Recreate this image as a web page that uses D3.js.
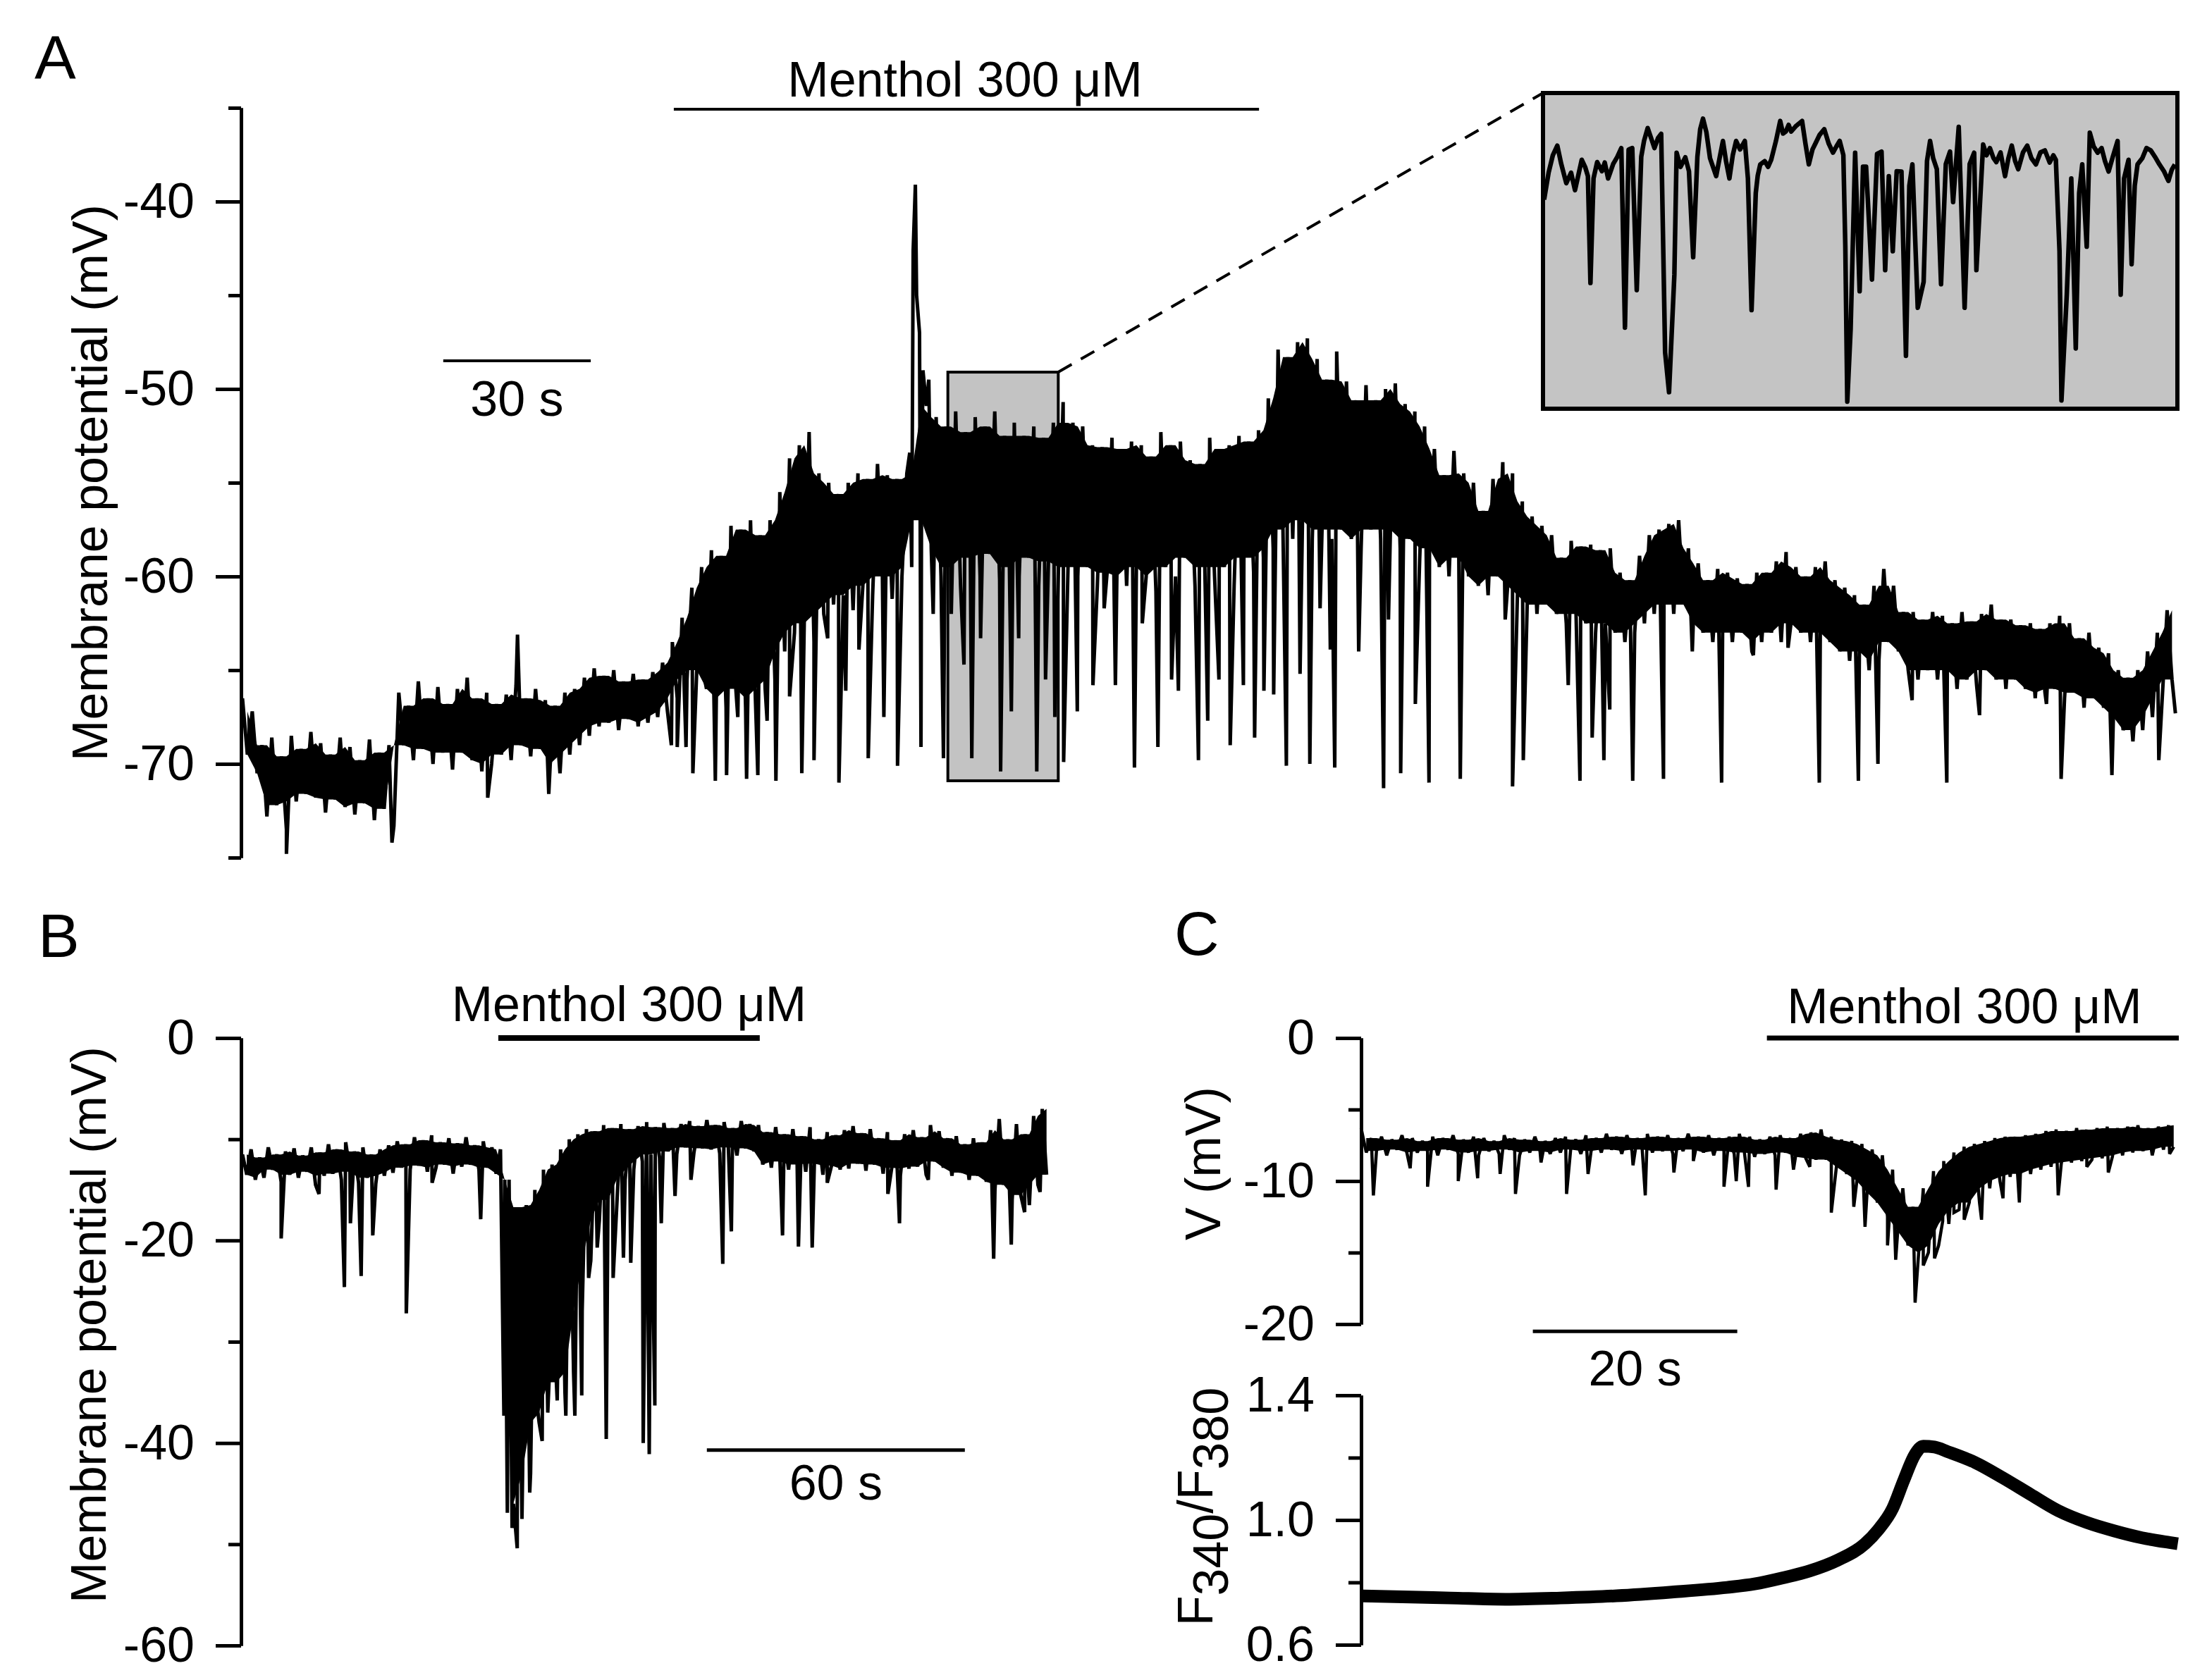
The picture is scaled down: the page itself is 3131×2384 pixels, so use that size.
<!DOCTYPE html>
<html>
<head>
<meta charset="utf-8">
<script src="https://cdn.jsdelivr.net/npm/d3@7"></script>
<style>
  html, body { margin: 0; padding: 0; background: #fff; }
  svg { display: block; }
  text { font-family: "Liberation Sans", Arial, Helvetica, sans-serif; fill: #000; }
</style>
</head>
<body>
<svg id="fig" width="3131" height="2384"></svg>
<script>
// ---------- Panel A : membrane potential (mV), band read every 2 s ----------
const stepA = 2;
const bandTopA = [
  -66.5,-67.2,-69.0,-68.6,-69.6,-68.5,-69.2,-68.3,-68.9,-69.5,
  -68.6,-69.1,-69.8,-68.7,-69.4,-69.0,-66.2,-66.9,-65.6,-66.5,
  -65.9,-66.8,-66.0,-65.4,-66.5,-66.2,-66.8,-66.3,-65.8,-66.5,
  -66.0,-66.6,-66.9,-66.2,-66.0,-65.4,-64.9,-65.3,-65.0,-65.6,
  -65.2,-65.5,-65.1,-64.6,-63.5,-62.2,-60.6,-59.5,-58.6,-58.9,
  -57.3,-57.5,-57.0,-57.8,-57.0,-55.5,-53.7,-53.0,-52.3,-54.5,
  -55.0,-55.6,-55.0,-54.5,-54.8,-54.0,-54.6,-54.8,-54.5,-45.0,
  -50.9,-51.5,-52.0,-51.2,-52.3,-51.5,-52.0,-51.2,-52.5,-51.8,
  -52.5,-52.0,-52.6,-51.8,-50.7,-51.8,-52.0,-53.0,-53.1,-52.6,
  -53.2,-52.8,-53.0,-53.6,-52.3,-53.0,-52.8,-53.8,-54.0,-52.6,
  -53.2,-53.0,-52.5,-52.8,-52.2,-50.5,-47.9,-48.3,-47.5,-47.3,
  -48.4,-49.5,-48.0,-49.6,-50.6,-49.8,-50.6,-50.0,-49.7,-50.8,
  -51.2,-52.0,-53.2,-54.6,-53.3,-54.5,-55.0,-56.5,-54.8,-53.9,
  -54.5,-56.0,-56.8,-57.3,-57.8,-59.0,-58.1,-58.4,-58.3,-58.6,
  -58.5,-59.8,-60.2,-58.9,-57.8,-57.5,-57.2,-57.0,-58.5,-59.3,
  -60.2,-59.6,-59.8,-60.1,-60.4,-59.8,-59.8,-59.2,-58.7,-59.5,
  -60.0,-59.5,-59.2,-60.2,-60.6,-61.0,-61.5,-60.5,-59.6,-60.5,
  -61.9,-61.9,-62.3,-61.9,-62.1,-62.5,-61.9,-62.4,-62.0,-61.5,
  -62.3,-62.3,-62.6,-62.5,-62.8,-62.5,-62.1,-62.5,-63.3,-63.0,
  -63.8,-64.1,-65.0,-65.4,-65.0,-64.0,-63.0,-61.8
];
const bandBotA = [
  -69.5,-70.5,-72.8,-72.2,-73.5,-72.0,-71.6,-71.8,-72.6,-71.9,
  -72.3,-72.7,-72.1,-73.0,-72.4,-73.3,-69.0,-69.8,-69.2,-70.0,
  -69.4,-70.3,-69.4,-69.8,-70.4,-70.0,-69.5,-69.8,-69.0,-69.6,
  -69.2,-70.0,-70.5,-69.5,-69.0,-68.5,-68.0,-67.8,-68.2,-67.6,
  -68.0,-67.8,-67.5,-67.2,-66.5,-65.5,-65.0,-66.0,-66.5,-67.0,
  -66.0,-67.0,-66.5,-66.0,-65.5,-64.0,-63.0,-62.5,-63.5,-62.0,
  -61.5,-61.0,-61.8,-60.5,-61.0,-60.0,-61.2,-60.0,-59.5,-57.0,
  -58.5,-60.0,-59.5,-60.5,-59.0,-60.0,-58.8,-60.2,-59.5,-60.0,
  -59.0,-60.5,-59.2,-60.0,-59.5,-60.0,-59.5,-60.5,-59.8,-60.0,
  -60.5,-59.5,-60.0,-60.8,-59.5,-60.0,-59.0,-60.5,-59.5,-60.0,
  -59.5,-60.5,-59.0,-59.8,-59.0,-58.5,-57.5,-58.0,-57.0,-58.0,
  -57.5,-58.0,-57.5,-58.0,-58.5,-57.5,-58.0,-57.5,-58.5,-58.0,
  -59.0,-58.5,-59.5,-60.0,-59.0,-60.0,-60.5,-61.0,-60.0,-60.5,
  -61.0,-61.5,-62.0,-61.5,-62.0,-62.5,-62.0,-62.5,-63.0,-62.5,
  -63.0,-63.5,-63.0,-62.5,-62.0,-61.5,-62.0,-61.5,-62.5,-63.0,
  -63.5,-63.0,-63.5,-63.0,-64.0,-63.5,-63.0,-63.5,-62.5,-63.0,
  -63.5,-63.0,-63.5,-64.0,-64.5,-64.0,-65.0,-64.5,-63.5,-64.0,
  -65.0,-65.5,-65.0,-65.5,-65.0,-66.0,-65.5,-65.8,-65.0,-65.5,
  -66.0,-65.5,-66.0,-66.5,-66.2,-66.0,-66.5,-66.2,-67.0,-66.5,
  -67.0,-67.5,-68.2,-68.8,-68.2,-67.5,-66.5,-65.5
];
// [time s, mV] of the fast excursions
const spikesA = [
  [9.0,-74.8],[30.6,-74.2],[50.2,-71.8],[56.3,-63.1],[62.7,-71.6],[87.8,-69.0],
  [89.0,-69.1],[90.8,-69.1],[92.2,-70.5],[94.0,-64.7],[96.8,-70.9],[99.1,-70.6],
  [101.4,-67.5],[103.2,-70.8],[105.5,-70.6],[107.4,-67.7],[109.2,-70.9],[112.0,-66.4],
  [114.5,-70.5],[117.0,-69.8],[119.8,-63.3],[122.1,-71.0],[123.5,-66.1],[126.2,-63.9],
  [128.1,-69.7],[131.3,-67.5],[134.1,-70.1],
  [136.6,-53.4],[137.3,-42.6],[137.75,-39.1],[138.6,-47.0],[138.9,-69.1],[139.3,-49.0],[140.5,-49.5],
  [141.4,-62.0],[143.5,-69.7],[145.1,-62.0],[147.7,-64.7],[149.3,-69.7],[151.1,-63.3],
  [155.2,-70.4],[157.4,-67.2],[158.9,-63.3],[162.6,-70.4],[164.4,-65.5],[166.3,-67.5],
  [168.1,-69.9],[170.9,-67.2],[174.1,-65.8],[176.4,-61.7],[178.7,-65.8],[182.6,-70.2],
  [184.2,-62.5],[187.4,-69.1],[190.2,-65.5],[191.6,-66.1],[195.7,-69.8],[197.6,-67.7],
  [199.9,-65.5],[202.2,-69.0],[204.9,-65.8],[207.2,-68.6],[209.1,-66.1],[211.1,-66.3],
  [213.7,-70.1],[216.5,-65.2],[218.5,-70.0],[220.6,-61.7],[222.7,-63.9],[223.6,-70.2],
  [228.5,-64.0],[233.6,-71.3],[234.6,-62.3],[237.1,-70.5],[240.1,-66.8],[242.9,-71.0],
  [249.3,-70.8],[258.5,-62.3],[260.0,-71.2],[262.2,-69.8],[271.4,-65.8],[273.8,-70.9],
  [276.3,-68.6],[278.7,-69.8],[279.9,-67.1],[284.6,-70.9],[290.9,-70.8],[296.8,-64.0],
  [302.8,-71.0],[309.3,-64.2],[316.4,-63.8],[322.8,-71.0],[330.8,-70.9],[334.8,-70.0],
  [341.8,-66.6],[348.9,-71.0],[355.6,-67.4],[369.3,-66.8],[372.3,-70.8],[382.7,-70.6],
  [385.3,-67.9],[392.3,-69.8],[395.7,-67.3]
];
const mentholA = [88.3, 208.1];     // s
const boxA = { t: [144.4, 167.0], mv: [-70.9, -49.1] };

// inset: magnified stretch of the grey box, [time s, mV]
const insetA = [
  [144.44,-56.46],[144.6,-54.6],[144.75,-53.4],[144.91,-52.73],[145.05,-54.0],[145.23,-55.33],
  [145.40,-54.6],[145.54,-55.81],[145.78,-53.71],[145.90,-54.2],[146.00,-54.84],
  [146.09,-62.22],[146.20,-55.0],[146.33,-53.87],[146.50,-54.5],[146.60,-53.9],[146.72,-55.0],
  [146.90,-54.0],[147.05,-53.5],[147.19,-52.9],[147.32,-65.30],
  [147.45,-53.0],[147.58,-52.9],[147.74,-62.71],[147.90,-53.5],[148.00,-52.4],[148.13,-51.52],
  [148.25,-52.2],[148.37,-52.9],[148.50,-52.2],[148.61,-51.92],[148.75,-67.0],[148.89,-69.76],
  [149.08,-61.65],[149.16,-53.22],[149.30,-54.2],[149.47,-53.54],[149.60,-54.5],
  [149.75,-60.44],[149.90,-53.5],[150.00,-51.6],[150.10,-50.87],[150.22,-51.8],[150.35,-53.6],
  [150.57,-54.84],[150.70,-53.5],[150.81,-52.41],[150.92,-53.8],[151.04,-55.0],
  [151.16,-53.4],[151.28,-52.41],[151.42,-53.0],[151.59,-52.41],[151.70,-55.0],[151.83,-64.09],
  [151.98,-56.0],[152.05,-54.8],[152.14,-54.03],[152.30,-53.8],[152.42,-54.2],
  [152.53,-53.71],[152.70,-52.4],[152.85,-51.03],[152.95,-51.9],[153.05,-51.76],[153.15,-51.3],
  [153.24,-51.76],[153.40,-51.4],[153.63,-51.03],[153.75,-52.6],[153.87,-54.03],
  [154.00,-53.0],[154.11,-52.57],[154.25,-52.0],[154.42,-51.6],[154.58,-52.6],[154.73,-53.22],
  [154.85,-52.8],[154.97,-52.41],[155.10,-53.38],[155.17,-59.71],
  [155.24,-70.41],[155.36,-65.38],[155.52,-53.22],[155.68,-62.79],[155.80,-54.19],[155.91,-54.19],
  [156.12,-61.98],[156.30,-53.3],[156.46,-53.14],[156.59,-61.33],[156.72,-54.84],[156.86,-60.03],
  [157.00,-54.5],[157.17,-54.52],[157.33,-67.25],[157.45,-55.5],[157.56,-54.03],[157.75,-63.93],
  [157.96,-62.14],[158.08,-53.8],[158.19,-52.41],[158.30,-53.6],[158.43,-54.36],[158.58,-62.3],
  [158.75,-54.0],[158.90,-53.14],
  [159.01,-56.63],[159.21,-51.44],[159.42,-63.93],[159.60,-54.0],[159.76,-53.22],[159.84,-61.33],
  [160.08,-52.65],[160.20,-53.4],[160.32,-52.9],[160.45,-53.6],[160.55,-53.87],[160.70,-53.2],
  [160.86,-54.84],[160.98,-53.6],[161.10,-52.73],[161.22,-53.8],[161.33,-54.36],[161.50,-53.2],
  [161.65,-52.73],[161.80,-53.6],[161.96,-54.03],[162.12,-53.2],[162.28,-53.06],[162.45,-53.9],
  [162.58,-53.4],[162.67,-53.71],[162.80,-60.0],[162.87,-70.33],[163.06,-63.0],
  [163.22,-55.0],[163.38,-66.74],[163.50,-56.0],[163.61,-54.03],[163.77,-59.71],[163.88,-51.84],
  [164.02,-52.8],[164.16,-53.22],[164.30,-52.9],[164.42,-53.8],[164.55,-54.52],[164.70,-53.5],
  [164.87,-52.41],[164.98,-63.03],[165.10,-55.0],[165.26,-53.71],
  [165.37,-60.92],[165.48,-55.5],[165.58,-54.03],[165.75,-53.6],[165.90,-52.9],[166.05,-53.06],
  [166.20,-53.5],[166.36,-54.03],[166.52,-54.5],[166.68,-55.17],[166.80,-54.4],[166.91,-54.03]
];

// ---------- Panel B : membrane potential (mV), band read every 2 s ----------
const stepB = 2;
const bandTopB = [
  -11.5,-11.0,-11.8,-10.8,-11.5,-11.2,-10.9,-11.6,-10.8,-11.3,
  -10.5,-11.0,-10.3,-11.2,-10.8,-11.5,-11.0,-10.6,-10.2,-10.5,
  -9.8,-10.1,-9.6,-10.3,-9.9,-10.4,-9.8,-10.6,-10.2,-10.8,
  -11.0,-14.0,-16.7,-16.5,-15.0,-13.0,-12.5,-11.0,-10.0,-9.5,
  -9.0,-9.2,-8.6,-8.9,-8.5,-9.0,-8.7,-8.3,-8.8,-8.4,
  -8.9,-8.5,-8.2,-8.7,-8.1,-8.6,-8.3,-8.9,-8.2,-8.5,
  -8.6,-9.3,-8.8,-9.5,-9.0,-9.7,-8.8,-10.0,-9.3,-9.6,
  -9.1,-8.7,-9.4,-9.0,-9.9,-9.3,-10.1,-9.5,-9.1,-9.8,
  -8.6,-9.2,-9.9,-9.7,-10.5,-9.9,-10.3,-9.1,-8.0,-10.0,
  -8.5,-9.5,-7.7,-7.0
];
const bandBotB = [
  -13.5,-14.0,-13.8,-13.0,-14.2,-13.5,-13.8,-13.2,-14.5,-13.6,
  -13.4,-14.0,-13.2,-14.3,-13.8,-14.4,-13.6,-13.3,-12.8,-13.0,
  -12.6,-13.2,-12.8,-12.5,-13.4,-12.7,-12.5,-13.0,-12.8,-13.4,
  -14.0,-46.0,-47.5,-43.0,-38.0,-37.0,-34.0,-35.0,-33.0,-27.0,
  -22.0,-18.0,-16.0,-17.0,-14.0,-13.0,-12.2,-11.5,-11.8,-11.2,
  -11.5,-10.8,-11.3,-10.9,-11.0,-11.4,-10.8,-11.6,-10.9,-11.2,
  -12.5,-12.8,-12.2,-13.0,-12.5,-13.2,-12.4,-13.5,-12.6,-13.0,
  -12.9,-12.4,-13.1,-12.5,-13.4,-12.8,-13.6,-12.9,-12.7,-13.5,
  -12.2,-12.8,-13.6,-13.3,-14.0,-13.6,-14.2,-15.0,-14.5,-16.0,
  -15.5,-16.5,-14.5,-13.5
];
const spikesB = [
  [9.0,-19.8],[17.8,-15.4],[23.7,-24.6],[25.1,-18.3],[27.6,-23.5],[30.3,-19.5],[38.1,-27.2],
  [44.1,-14.3],[55.4,-17.9],
  [60.8,-37.3],[61.6,-46.9],[62.7,-48.4],[63.9,-50.4],[65.1,-44.4],[66.8,-44.9],[68.4,-35.8],
  [69.7,-39.8],[71.6,-30.8],[73.2,-35.8],[75.2,-37.3],[77.3,-37.3],[78.9,-35.3],[80.5,-23.7],
  [82.5,-20.7],[84.6,-39.6],[86.2,-23.7],[88.6,-21.7],[90.3,-22.2],[93.2,-40.0],[94.6,-41.1],
  [95.9,-36.3],[97.4,-18.3],[100.6,-15.6],[104.3,-14.0],[111.7,-22.3],[113.7,-19.1],
  [125.6,-19.5],[129.3,-20.6],[132.5,-20.7],[136.0,-14.3],[150.1,-15.4],[152.8,-18.3],
  [159.5,-14.0],[169.0,-14.0],[174.7,-21.8],[178.8,-20.4],[181.9,-17.2],[185.5,-15.2]
];
const mentholB = [59.5, 120.3];

// ---------- Panel C : V (mV) band read every 1 s, and F340/F380 ----------
const stepC = 1;
const bandTopC = [
  -6.3,-7.0,-6.9,-7.1,-6.8,-7.0,-7.2,-6.9,-7.0,-6.8,
  -7.1,-6.9,-7.0,-7.2,-6.8,-7.0,-7.1,-6.9,-7.2,-7.0,
  -6.9,-7.1,-6.8,-7.0,-6.7,-6.9,-6.8,-7.0,-6.7,-6.9,
  -6.8,-7.0,-6.7,-6.9,-6.8,-7.0,-6.9,-6.7,-6.9,-7.1,
  -6.9,-6.8,-7.0,-6.7,-6.6,-6.4,-6.9,-7.1,-7.2,-7.4,
  -7.8,-8.2,-9.2,-10.5,-11.8,-10.5,-9.3,-8.6,-8.0,-7.6,
  -7.4,-7.2,-7.0,-6.9,-6.9,-6.8,-6.7,-6.5,-6.4,-6.5,
  -6.3,-6.4,-6.3,-6.2,-6.3,-6.2,-6.1,-6.3,-6.2,-6.1
];
const bandBotC = [
  -8.0,-7.9,-8.2,-7.8,-8.1,-8.0,-7.9,-8.2,-7.8,-8.1,
  -8.0,-8.2,-7.9,-8.1,-7.8,-8.2,-8.0,-7.9,-8.1,-8.0,
  -7.8,-8.1,-7.9,-8.0,-7.8,-8.1,-7.9,-7.8,-8.0,-7.9,
  -8.1,-7.9,-7.8,-8.0,-8.2,-7.9,-8.1,-8.0,-8.3,-8.1,
  -8.2,-8.0,-8.3,-8.4,-8.5,-8.5,-9.0,-9.5,-10.0,-10.8,
  -11.5,-12.5,-13.5,-14.5,-15.5,-15.0,-14.5,-13.0,-12.0,-11.5,
  -11.5,-10.5,-10.0,-9.7,-9.5,-9.5,-9.2,-9.0,-8.8,-8.7,
  -8.6,-8.5,-8.4,-8.3,-8.2,-8.0,-7.9,-7.9,-7.8,-7.6
];
const spikesC = [
  [1.2,-11.0],[4.8,-9.1],[6.5,-10.4],[9.5,-10.0],[11.4,-9.8],[13.6,-9.5],[15.1,-10.9],
  [17.6,-8.7],[20.1,-10.9],[22.2,-9.5],[26.6,-8.9],[27.8,-11.0],[30.6,-9.4],[32.5,-8.6],
  [35.5,-10.4],[36.7,-10.0],[37.9,-10.4],[40.6,-10.6],[42.3,-9.2],[43.9,-9.0],[46.0,-12.2],
  [48.2,-11.8],[49.3,-13.2],[51.5,-14.5],[52.3,-15.5],[54.2,-18.5],[55.0,-15.9],[56.1,-15.4],
  [56.9,-12.8],[58.0,-12.2],[59.0,-12.7],[60.7,-12.7],[62.8,-11.2],[64.4,-11.5],[68.2,-11.0],
  [71.0,-9.0],[73.1,-9.4],[77.4,-8.2],[79.1,-8.1]
];
const ratioC = [
  [0,0.757],[3.3,0.754],[8.7,0.750],[14.1,0.746],[19.5,0.750],[25.0,0.757],[30.4,0.769],
  [35.8,0.784],[38.5,0.795],[41.2,0.814],[43.9,0.837],[46.6,0.871],[49.3,0.924],[50.6,0.969],
  [52.0,1.037],[53.1,1.128],[54.2,1.211],[55.0,1.237],[56.1,1.234],[57.4,1.219],[60.1,1.184],
  [62.8,1.135],[65.5,1.082],[68.2,1.030],[71.0,0.992],[73.7,0.965],[76.4,0.943],[79.1,0.928],
  [79.9,0.924]
];
const mentholC = [39.7, 80.0];

// ---------- drawing ----------
const svg = d3.select("#fig");
const FS = 70;
const LW = 5;

const xA = d3.scaleLinear().domain([0, 400]).range([344, 344 + 400 * 6.93]);
const yA = d3.scaleLinear().domain([-75, -35]).range([1217, 153]);
const xI = d3.scaleLinear().domain(boxA.t).range([2189, 3089]);
const yI = d3.scaleLinear().domain(boxA.mv).range([580, 132]);
const xB = d3.scaleLinear().domain([0, 200]).range([344, 344 + 200 * 6.1]);
const yB = d3.scaleLinear().domain([-60, 0]).range([2335, 1473]);
const xC = d3.scaleLinear().domain([0, 80]).range([1931, 1931 + 80 * 14.5]);
const yCv = d3.scaleLinear().domain([-20, 0]).range([1879, 1473]);
const yCr = d3.scaleLinear().domain([0.6, 1.4]).range([2334, 1980]);

function text(x, y, str, opts = {}) {
  return svg.append("text")
    .attr("x", x).attr("y", y)
    .attr("font-size", opts.size || FS)
    .attr("text-anchor", opts.anchor || "middle")
    .text(str);
}

function yLabel(x, y, str) {
  svg.append("text")
    .attr("transform", `translate(${x},${y}) rotate(-90)`)
    .attr("font-size", FS)
    .attr("text-anchor", "middle")
    .text(str);
}

function axis(x0, scale, major, minor, fmt) {
  const g = svg.append("g").attr("transform", `translate(${x0},0)`);
  g.append("g").call(d3.axisLeft(scale).tickValues(minor).tickSize(18).tickSizeOuter(0).tickFormat(""));
  g.append("g").call(d3.axisLeft(scale).tickValues(major).tickSize(36).tickSizeOuter(0).tickPadding(30).tickFormat(fmt));
  g.selectAll("path, line").attr("stroke", "#000").attr("stroke-width", LW);
  g.selectAll("text")
    .attr("font-size", FS)
    .attr("font-family", '"Liberation Sans", Arial, sans-serif')
    .attr("fill", "#000");
  return g;
}

// band + spikes -> one time-ordered trace (top at bin start, bottom at mid-bin)
function tracePoints(step, top, bot, spikes) {
  const pts = [];
  top.forEach((v, i) => {
    pts.push([i * step, v]);
    pts.push([i * step + step / 2, bot[i]]);
  });
  spikes.forEach(s => pts.push(s));
  return pts.sort((a, b) => a[0] - b[0]);
}

// solid core of the noise band: what a bin shares with the next one
function drawTrace(x, y, step, top, bot, spikes, width) {
  const n = top.length;
  const nb = i => [i, Math.min(n - 1, i + 1)];
  const coreTop = d3.range(n).map(i => d3.min(nb(i), j => top[j]));
  const coreBot = d3.range(n).map(i => Math.min(d3.max(nb(i), j => bot[j]), coreTop[i]));
  const area = d3.area()
    .x(i => x(i * step + step / 2))
    .y0(i => y(coreBot[i]))
    .y1(i => y(coreTop[i]));
  svg.append("path")
    .attr("d", area(d3.range(n)))
    .attr("fill", "#000");
  svg.append("path")
    .attr("d", d3.line().x(d => x(d[0])).y(d => y(d[1]))(tracePoints(step, top, bot, spikes)))
    .attr("fill", "none")
    .attr("stroke", "#000")
    .attr("stroke-width", width)
    .attr("stroke-linejoin", "miter")
    .attr("stroke-miterlimit", 2);
}

function hbar(x1, x2, y, w) {
  svg.append("line")
    .attr("x1", x1).attr("x2", x2).attr("y1", y).attr("y2", y)
    .attr("stroke", "#000").attr("stroke-width", w);
}

const intFmt = d => String(d);

// ===== Panel A =====
text(49, 112, "A", { size: 88, anchor: "start" });
axis(342, yA, [-70, -60, -50, -40], [-75, -65, -55, -45, -35], intFmt);
yLabel(152, yA(-55), "Membrane potential (mV)");

hbar(xA(mentholA[0]), xA(mentholA[1]), 155, 4);
text(xA(d3.mean(mentholA)) - 2, 137, "Menthol 300 μM");

// 30 s scale bar
hbar(xA(41.1), xA(71.3), yA(-48.5), 4);
text(xA(56.2), 590, "30 s");

// grey box marking the magnified stretch
svg.append("rect")
  .attr("x", xA(boxA.t[0])).attr("y", yA(boxA.mv[1]))
  .attr("width", xA(boxA.t[1]) - xA(boxA.t[0]))
  .attr("height", yA(boxA.mv[0]) - yA(boxA.mv[1]))
  .attr("fill", "#c3c3c3").attr("stroke", "#000").attr("stroke-width", 4);

drawTrace(xA, yA, stepA, bandTopA, bandBotA, spikesA, 5);

// dashed connector and inset
svg.append("line")
  .attr("x1", xA(boxA.t[1])).attr("y1", yA(boxA.mv[1]))
  .attr("x2", xI.range()[0]).attr("y2", yI.range()[1])
  .attr("stroke", "#000").attr("stroke-width", 4).attr("stroke-dasharray", "22,15");

svg.append("rect")
  .attr("x", xI.range()[0]).attr("y", yI.range()[1])
  .attr("width", xI.range()[1] - xI.range()[0])
  .attr("height", yI.range()[0] - yI.range()[1])
  .attr("fill", "#c4c4c4").attr("stroke", "#000").attr("stroke-width", 6);

svg.append("path")
  .attr("d", d3.line().x(d => xI(d[0])).y(d => yI(d[1]))(insetA))
  .attr("fill", "none").attr("stroke", "#000").attr("stroke-width", 6.5)
  .attr("stroke-linejoin", "round");

// ===== Panel B =====
text(54, 1358, "B", { size: 88, anchor: "start" });
axis(342, yB, [-60, -40, -20, 0], [-50, -30, -10], intFmt);
yLabel(150, 1880, "Membrane potential (mV)");

hbar(xB(mentholB[0]), xB(mentholB[1]), yB(0), 8);
text(xB(d3.mean(mentholB)), 1449, "Menthol 300 μM");

drawTrace(xB, yB, stepB, bandTopB, bandBotB, spikesB, 5);

hbar(xB(108), xB(168), yB(-40.7), 5);
text(xB(138), 2128, "60 s");

// ===== Panel C =====
text(1666, 1355, "C", { size: 88, anchor: "start" });
axis(1931, yCv, [-20, -10, 0], [-15, -5], intFmt);
axis(1931, yCr, [0.6, 1.0, 1.4], [0.8, 1.2], d3.format(".1f"));
yLabel(1731, 1651, "V (mV)");

// F340/F380 with subscripts
const fl = svg.append("text")
  .attr("transform", "translate(1720,2138) rotate(-90)")
  .attr("font-size", FS)
  .attr("text-anchor", "middle");
fl.append("tspan").text("F");
fl.append("tspan").attr("dy", 22).text("340");
fl.append("tspan").attr("dy", -22).text("/F");
fl.append("tspan").attr("dy", 22).text("380");

hbar(xC(mentholC[0]), xC(mentholC[1]), yCv(0), 7);
text(xC(d3.mean(mentholC)) - 12, 1452, "Menthol 300 μM");

drawTrace(xC, yCv, stepC, bandTopC, bandBotC, spikesC, 4.5);

hbar(xC(16.8), xC(36.8), yCv(-20.5), 5);
text(xC(26.8), 1966, "20 s");

svg.append("path")
  .attr("d", d3.line().x(d => xC(d[0])).y(d => yCr(d[1])).curve(d3.curveMonotoneX)(ratioC))
  .attr("fill", "none").attr("stroke", "#000").attr("stroke-width", 18);
</script>
</body>
</html>
